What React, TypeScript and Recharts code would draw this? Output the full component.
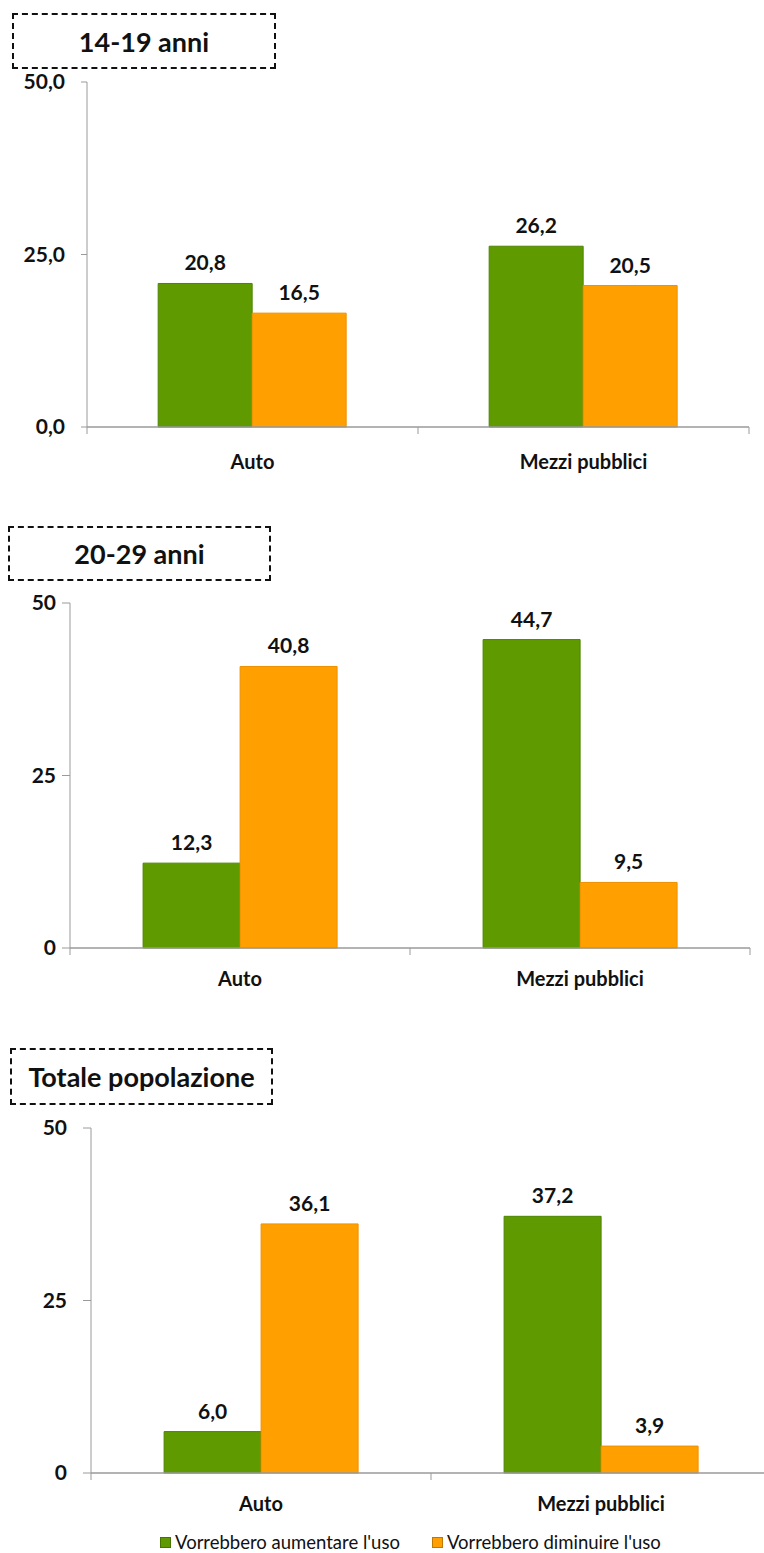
import { BarChart, Bar, XAxis, YAxis, LabelList, Legend } from 'recharts';

const categories = ['Auto', 'Mezzi pubblici'];
const seriesNames = ["Vorrebbero aumentare l'uso", "Vorrebbero diminuire l'uso"];

const aumentare1419 = [20.8, 26.2];
const diminuire1419 = [16.5, 20.5];
const aumentare2029 = [12.3, 44.7];
const diminuire2029 = [40.8, 9.5];
const aumentareTot = [6.0, 37.2];
const diminuireTot = [36.1, 3.9];

const yTicks = [0, 25, 50];

const GREEN = '#5f9b00';
const ORANGE = '#ffa000';
const AXIS = '#9a9a9a';
const FONT = 'Lato, "Open Sans", sans-serif';

const toRows = (a: number[], d: number[]) =>
  categories.map((name, i) => ({ name, aumentare: a[i], diminuire: d[i] }));

const comma = (v: number, digits: number) => v.toFixed(digits).replace('.', ',');

interface PanelProps {
  title: string;
  titleBox: { left: number; top: number; width: number; height: number };
  top: number;
  plotLeft: number;
  plotRight: number;
  width: number;
  tickDigits: number;
  tickSize: number;
  tickMargin: number;
  labelDy: number;
  rows: { name: string; aumentare: number; diminuire: number }[];
  legend?: boolean;
}

const PLOT_H = 345;
const TOP_PAD = 20;
const XAXIS_H = 50;
const LEGEND_H = 25;

function makeCategoryTick(labelDy: number, half: number) {
  return (props: any) => {
    const { x, y, payload, index } = props;
    const h = payload?.offset ?? half;
    return (
      <g>
        {index === 0 && <line x1={x - h} x2={x - h} y1={y} y2={y + 7} stroke={AXIS} />}
        <line x1={x + h} x2={x + h} y1={y} y2={y + 7} stroke={AXIS} />
        <text
          x={x}
          y={y + labelDy}
          textAnchor="middle"
          fontFamily={FONT}
          fontWeight="bold"
          fontSize={20}
          fill="#111"
        >
          {payload.value}
        </text>
      </g>
    );
  };
}

const renderLegend = (props: any) => {
  const { payload } = props;
  return (
    <div
      style={{
        display: 'flex',
        gap: 32,
        fontFamily: FONT,
        fontSize: 18.5,
        lineHeight: '16px',
        color: '#111',
      }}
    >
      {payload.map((entry: any) => (
        <div key={entry.value} style={{ display: 'flex', alignItems: 'center' }}>
          <span
            style={{
              display: 'inline-block',
              width: 9,
              height: 9,
              background: entry.color,
              border: '1px solid rgba(0,0,0,0.25)',
              marginRight: 4,
            }}
          />
          <span>{entry.value}</span>
        </div>
      ))}
    </div>
  );
};

const valueLabelStyle = { fontFamily: FONT, fontWeight: 'bold', fontSize: 21, fill: '#111' };

function Panel(p: PanelProps) {
  const height = TOP_PAD + PLOT_H + XAXIS_H + (p.legend ? LEGEND_H : 0);
  const half = (p.plotRight - p.plotLeft) / 4;
  return (
    <>
      <div
        style={{
          position: 'absolute',
          left: p.titleBox.left,
          top: p.titleBox.top,
          width: p.titleBox.width,
          height: p.titleBox.height,
          border: '2px dashed #111',
          boxSizing: 'border-box',
          display: 'flex',
          alignItems: 'center',
          justifyContent: 'center',
          fontFamily: FONT,
          fontWeight: 'bold',
          fontSize: 27,
          color: '#111',
          zIndex: 2,
        }}
      >
        {p.title}
      </div>
      <div style={{ position: 'absolute', left: 0, top: p.top - TOP_PAD }}>
        <BarChart
          width={p.width}
          height={height}
          data={p.rows}
          margin={{ top: TOP_PAD, right: p.width - p.plotRight, bottom: 0, left: 0 }}
          barCategoryGap="21.5%"
          barGap={0}
        >
          <XAxis
            dataKey="name"
            height={XAXIS_H}
            axisLine={{ stroke: AXIS, strokeWidth: 1.5 }}
            tickLine={false}
            tickSize={0}
            tickMargin={0}
            interval={0}
            tick={makeCategoryTick(p.labelDy, half)}
          />
          <YAxis
            width={p.plotLeft}
            domain={[0, 50]}
            ticks={yTicks}
            interval={0}
            axisLine={{ stroke: AXIS }}
            tickLine={{ stroke: AXIS }}
            tickSize={p.tickSize}
            tickMargin={p.tickMargin}
            tickFormatter={(v: number) => comma(v, p.tickDigits)}
            tick={{ fontFamily: FONT, fontWeight: 'bold', fontSize: 21, fill: '#111' }}
          />
          <Bar
            dataKey="aumentare"
            name={seriesNames[0]}
            fill={GREEN}
            stroke="#4d8400"
            strokeWidth={1}
            legendType="square"
            isAnimationActive={false}
          >
            <LabelList
              dataKey="aumentare"
              position="top"
              offset={13}
              formatter={(v: any) => comma(Number(v), 1)}
              style={valueLabelStyle}
            />
          </Bar>
          <Bar
            dataKey="diminuire"
            name={seriesNames[1]}
            fill={ORANGE}
            stroke="#ee9000"
            strokeWidth={1}
            legendType="square"
            isAnimationActive={false}
          >
            <LabelList
              dataKey="diminuire"
              position="top"
              offset={13}
              formatter={(v: any) => comma(Number(v), 1)}
              style={valueLabelStyle}
            />
          </Bar>
          {p.legend && (
            <Legend
              verticalAlign="bottom"
              height={LEGEND_H}
              content={renderLegend}
              wrapperStyle={{ left: 160, top: 426, bottom: 'auto', width: 600 }}
            />
          )}
        </BarChart>
      </div>
    </>
  );
}

export default function App() {
  return (
    <div
      style={{
        position: 'fixed',
        left: 0,
        top: 0,
        width: 764,
        height: 1553,
        overflow: 'hidden',
        background: '#fff',
      }}
    >
      <Panel
        title="14-19 anni"
        titleBox={{ left: 12, top: 13, width: 264, height: 56 }}
        top={82}
        plotLeft={87}
        plotRight={749}
        width={764}
        tickDigits={1}
        tickSize={6}
        tickMargin={16}
        labelDy={42}
        rows={toRows(aumentare1419, diminuire1419)}
      />
      <Panel
        title="20-29 anni"
        titleBox={{ left: 8, top: 526, width: 263, height: 55 }}
        top={603}
        plotLeft={70}
        plotRight={750}
        width={764}
        tickDigits={0}
        tickSize={8}
        tickMargin={6}
        labelDy={38}
        rows={toRows(aumentare2029, diminuire2029)}
      />
      <Panel
        title="Totale popolazione"
        titleBox={{ left: 10, top: 1048, width: 263, height: 57 }}
        top={1128}
        plotLeft={91}
        plotRight={771}
        width={780}
        tickDigits={0}
        tickSize={8}
        tickMargin={16}
        labelDy={38}
        rows={toRows(aumentareTot, diminuireTot)}
        legend
      />
    </div>
  );
}
